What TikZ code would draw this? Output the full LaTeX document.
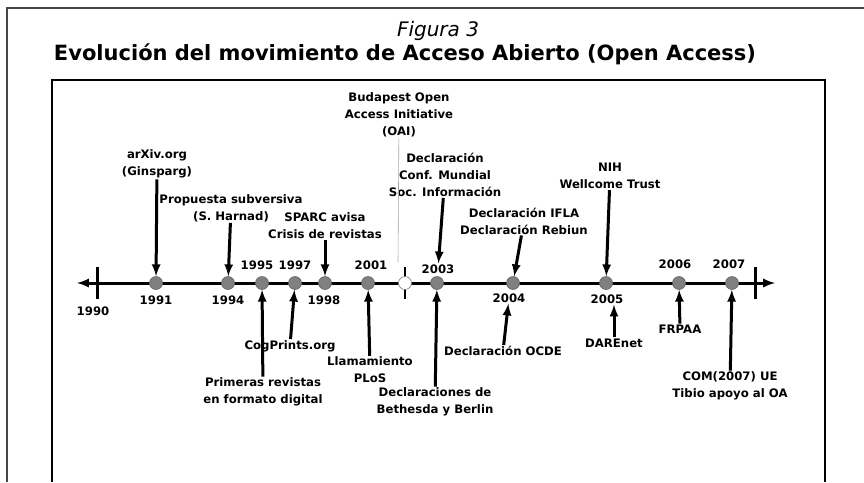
\documentclass[tikz,border=0pt]{standalone}
\usepackage{fontspec}
\setmainfont{DejaVu Sans}
\usetikzlibrary{calc}
\definecolor{gris}{RGB}{128,128,128}
\definecolor{marco}{RGB}{70,70,70}
\newcommand{\flecha}[2]{\draw[-{latex[scale=1.5]}, line width=3pt] (#1) -- (#2)}
\tikzset{
    punto/.style={circle, fill=gris, draw=gris!80!black, line width=0.6pt, minimum size=13pt, inner sep=0pt},
    anio/.style={font=\bfseries\fontsize{11.7}{14}\selectfont, inner sep=1pt},
    evento/.style={font=\bfseries\fontsize{11.7}{17}\selectfont, align=center, inner sep=1pt},
    raya/.style={fill=black, minimum width=3pt, minimum height=32pt, inner sep=0pt}
}

\begin{document}
\begin{tikzpicture}[x=1pt, y=-1pt]
    \useasboundingbox (0,0) rectangle (864,482);
    % marcos
    \draw[marco, line width=1.4pt] (7,482) -- (7,8) -- (864,8);
    \draw[line width=1.6pt] (52,482) -- (52,80) -- (825,80) -- (825,482);

    % titulos
    \node[font=\itshape\fontsize{20}{22}\selectfont, anchor=base] (figura) at (438,36) {Figura 3};
    \node[font=\bfseries\fontsize{21}{24}\selectfont, anchor=base] (titulo) at (405,60) {Evolución del movimiento de Acceso Abierto (Open Access)};

    % eje
    \coordinate (izq) at (77,283);
    \coordinate (der) at (775,283);
    \draw[{latex[scale=1.6]}-{latex[scale=1.6]}, line width=3pt] (izq) -- (der);
    \node[raya] (m1990) at (97,283) {};
    \node[raya] (mfin) at (755,283) {};
    \node[raya, minimum width=2.2pt] (m2002) at (405,283) {};

    \node[punto] (d1991) at (156,283) {};
    \node[punto] (d1994) at (228,283) {};
    \node[punto] (d1995) at (262,283) {};
    \node[punto] (d1997) at (295,283) {};
    \node[punto] (d1998) at (325,283) {};
    \node[punto] (d2001) at (368,283) {};
    \node[punto, fill=white, draw=gris] (d2002) at (405,283) {};
    \node[punto] (d2003) at (437,283) {};
    \node[punto] (d2004) at (513,283) {};
    \node[punto] (d2005) at (606,283) {};
    \node[punto] (d2006) at (679,283) {};
    \node[punto] (d2007) at (732,283) {};

    \node[anio] (a1990) at (93,311) {1990};
    \node[anio] (a1991) at (156,300) {1991};
    \node[anio] (a1994) at (228,300) {1994};
    \node[anio] (a1995) at (257,265) {1995};
    \node[anio] (a1997) at (295,265) {1997};
    \node[anio] (a1998) at (324,300) {1998};
    \node[anio] (a2001) at (371,265) {2001};
    \node[anio] (a2003) at (438,269) {2003};
    \node[anio] (a2004) at (509,298) {2004};
    \node[anio] (a2005) at (607,299) {2005};
    \node[anio] (a2006) at (675,264) {2006};
    \node[anio] (a2007) at (729,264) {2007};

    % arriba
    \node[evento] (oai) at (399,115) {Budapest Open\\Access Initiative\\(OAI)};
    \node[evento] (arxiv) at (157,164) {arXiv.org\\(Ginsparg)};
    \node[evento] (harnad) at (231,208) {Propuesta subversiva\\(S. Harnad)};
    \node[evento] (sparc) at (325,226) {SPARC avisa\\Crisis de revistas};
    \node[evento] (cmsi) at (445,175) {Declaración\\Conf. Mundial\\Soc. Información};
    \node[evento] (ifla) at (524,221) {Declaración IFLA\\Declaración Rebiun};
    \node[evento] (nih) at (610,176) {NIH\\Wellcome Trust};

    % abajo
    \node[evento] (digital) at (263,392) {Primeras revistas\\en formato digital};
    \node[evento] (cogprints) at (290,346) {CogPrints.org};
    \node[evento] (plos) at (370,370) {Llamamiento\\PLoS};
    \node[evento] (berlin) at (435,402) {Declaraciones de\\Bethesda y Berlin};
    \node[evento] (ocde) at (503,351) {Declaración OCDE};
    \node[evento] (darenet) at (614,343) {DAREnet};
    \node[evento] (frpaa) at (680,329) {FRPAA};
    \node[evento] (com) at (730,386) {COM(2007) UE\\Tibio apoyo al OA};

    \coordinate (finoai) at (398,262);
    \draw[gris!70, line width=0.6pt] (oai) -- (finoai);

    \flecha{arxiv}{d1991};
    \flecha{harnad}{d1994};
    \flecha{sparc}{d1998};
    \flecha{cmsi}{a2003};
    \flecha{ifla}{d2004};
    \flecha{nih}{d2005};

    \flecha{digital}{d1995};
    \flecha{cogprints}{d1997};
    \flecha{plos}{d2001};
    \flecha{berlin}{d2003};
    \flecha{ocde}{a2004};
    \flecha{darenet}{darenet |- a2005.south};
    \flecha{frpaa}{d2006};
    \flecha{com}{d2007};
\end{tikzpicture}
\end{document}
